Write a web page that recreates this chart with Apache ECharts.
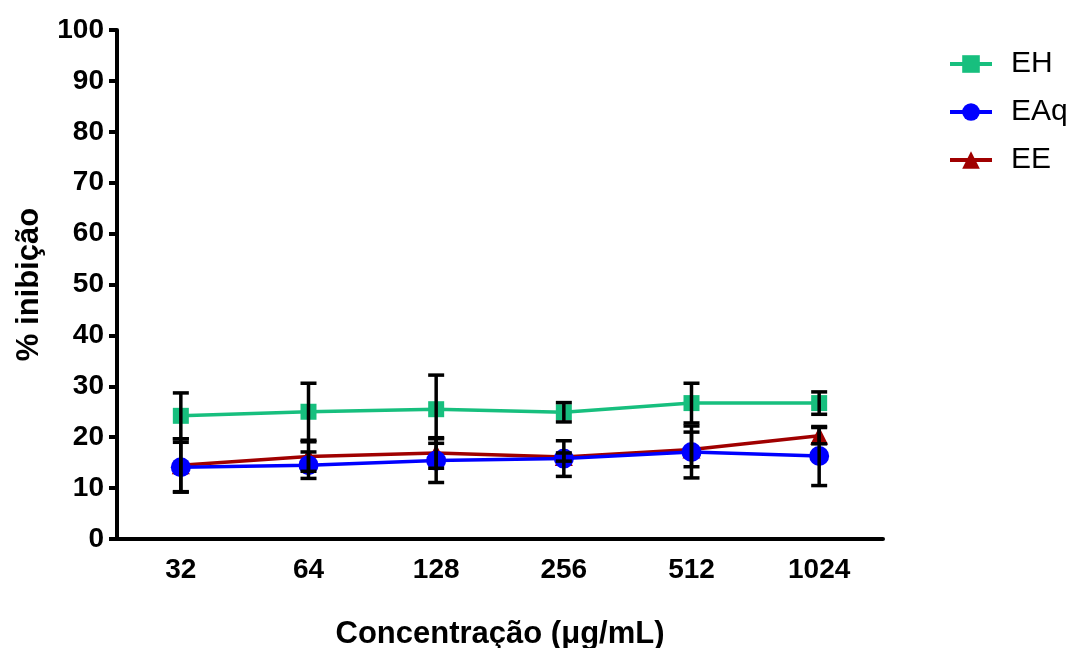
<!DOCTYPE html>
<html><head><meta charset="utf-8">
<script src="https://cdn.jsdelivr.net/npm/echarts@6/dist/echarts.min.js"></script>
<style>html,body{margin:0;padding:0;background:#fff}#c{width:1072px;height:648px}</style>
</head><body><div id="c"></div>
<script>
const categories = ['32','64','128','256','512','1024'];
const yTicks = [0,10,20,30,40,50,60,70,80,90,100];
const ehMean = [24.2, 25.0, 25.5, 24.9, 26.7, 26.7];
const ehErr  = [4.5, 5.6, 6.7, 1.9, 3.9, 2.2];
const eaqMean = [14.1, 14.5, 15.4, 15.8, 17.1, 16.3];
const eaqErr  = [4.9, 2.6, 4.3, 3.5, 5.1, 5.8];
const eeMean = [14.5, 16.2, 16.9, 16.1, 17.6, 20.3];
const eeErr  = [5.2, 2.9, 3.0, 0.8, 3.4, 1.6];

const FONT = '"Liberation Sans", Arial, sans-serif';
const chart = echarts.init(document.getElementById('c'));

function errData(mean, err){ return mean.map((m,i)=>[i, m-err[i], m+err[i]]); }
function errSeries(name, mean, err){
  return {
    type:'custom', name: name + ' err', z: 10, silent:true,
    data: errData(mean, err),
    encode:{x:0, y:[1,2]},
    renderItem: function(params, api){
      const x = api.value(0);
      const lo = api.coord([x, api.value(1)]);
      const hi = api.coord([x, api.value(2)]);
      const hw = 8;
      const st = {stroke:'#000', lineWidth:3.5};
      return {type:'group', children:[
        {type:'line', shape:{x1:lo[0],y1:lo[1],x2:hi[0],y2:hi[1]}, style:st},
        {type:'line', shape:{x1:lo[0]-hw,y1:lo[1],x2:lo[0]+hw,y2:lo[1]}, style:st},
        {type:'line', shape:{x1:hi[0]-hw,y1:hi[1],x2:hi[0]+hw,y2:hi[1]}, style:st}
      ]};
    }
  };
}

chart.setOption({
  animation:false,
  backgroundColor:'#fff',
  grid:{left:117, right:189, top:30, bottom:109, containLabel:false, outerBoundsMode:'none'},
  legend:{
    left:943, top:44, orient:'vertical', itemWidth:42, itemHeight:22, itemGap:18,
    data:['EH','EAq','EE'],
    lineStyle:{width:4},
    textStyle:{fontFamily:FONT, fontSize:30, color:'#000', padding:[0,0,0,14]}
  },
  xAxis:{
    type:'category', data:categories, boundaryGap:true,
    name:'Concentração (μg/mL)', nameLocation:'middle', nameGap:80,
    nameTextStyle:{fontFamily:FONT, fontSize:31, fontWeight:'bold', color:'#000'},
    axisLine:{lineStyle:{color:'#000', width:4}},
    axisTick:{alignWithLabel:true, length:9, lineStyle:{color:'#000', width:4}},
    axisLabel:{fontFamily:FONT, fontSize:28, fontWeight:'bold', color:'#000', margin:17},
    splitLine:{show:false}
  },
  yAxis:{
    type:'value', min:0, max:100, interval:10,
    name:'% inibição', nameLocation:'middle', nameGap:72,
    nameTextStyle:{fontFamily:FONT, fontSize:31, fontWeight:'bold', color:'#000'},
    axisLine:{show:true, lineStyle:{color:'#000', width:4}},
    axisTick:{show:true, length:8, lineStyle:{color:'#000', width:4}},
    axisLabel:{fontFamily:FONT, fontSize:28, fontWeight:'bold', color:'#000', margin:13,
      formatter: v => yTicks.includes(v) ? String(v) : ''},
    splitLine:{show:false}
  },
  series:[
    {name:'EH', type:'line', data:ehMean, symbol:'rect', symbolSize:16,
     itemStyle:{color:'#17BF7E'}, lineStyle:{color:'#17BF7E', width:3.5}, z:3},
    {name:'EE', type:'line', data:eeMean, symbol:'triangle', symbolSize:18,
     itemStyle:{color:'#A00000'}, lineStyle:{color:'#A00000', width:3.5}, z:3},
    {name:'EAq', type:'line', data:eaqMean, symbol:'circle', symbolSize:20,
     itemStyle:{color:'#0000FF'}, lineStyle:{color:'#0000FF', width:3.5}, z:4},
    errSeries('EH', ehMean, ehErr),
    errSeries('EAq', eaqMean, eaqErr),
    errSeries('EE', eeMean, eeErr)
  ]
});
</script></body></html>
